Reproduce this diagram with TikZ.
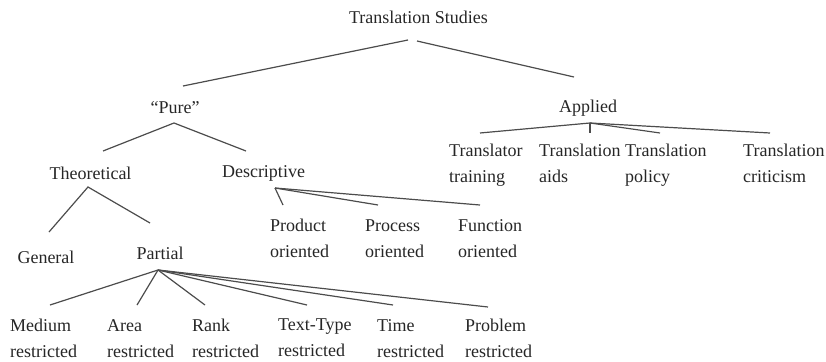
\documentclass[tikz,border=0pt]{standalone}
\usepackage{fontspec}
\setmainfont{Liberation Serif}
\usetikzlibrary{positioning}
\tikzset{
  lbl/.style={inner sep=0pt, text=black!85, font=\fontsize{18}{26}\selectfont},
  leaf/.style={lbl, anchor=west, align=left,
    execute at begin node=\strut, execute at end node=\strut},
  branch/.style={draw=black!70, line width=1.2pt},
}

\begin{document}
\begin{tikzpicture}[x=1pt,y=-1pt]
\useasboundingbox (0,0) rectangle (826,361);
% upper levels
\node[lbl] (ts) at (418.5,17) {Translation Studies};
\node[lbl] (pure) at (175,108) {``Pure''};
\node[lbl] (applied) at (588,108) {Applied};
\node[lbl] (theo) at (90.5,173) {Theoretical};
\node[lbl] (desc) at (263.5,173) {Descriptive};
\node[lbl] (general) at (46,257) {General};
\node[lbl] (partial) at (160,253) {Partial};
% applied branch
\node[leaf] (training) at (449,167.5) {Translator\\training};
\node[leaf] (aids) at (539,167.5) {Translation\\aids};
\node[leaf] (policy) at (625,167.5) {Translation\\policy};
\node[leaf] (criticism) at (743,167.5) {Translation\\criticism};
% descriptive branch
\node[leaf] (product) at (270,242.5) {Product\\oriented};
\node[leaf] (process) at (365,242.5) {Process\\oriented};
\node[leaf] (function) at (458,242.5) {Function\\oriented};
% partial branch
\node[leaf] (medium) at (10,342) {Medium\\restricted};
\node[leaf] (area) at (107,342) {Area\\restricted};
\node[leaf] (rank) at (192,342) {Rank\\restricted};
\node[leaf] (texttype) at (278,342) {Text-Type\\restricted};
\node[leaf] (time) at (377,342) {Time\\restricted};
\node[leaf] (problem) at (465,342) {Problem\\restricted};

\draw[branch] ([shift={(-10.5,23)}]ts.center) -- ([shift={(8,-22)}]pure.center);
\draw[branch] ([shift={(-1.5,24)}]ts.center) -- ([shift={(-14,-31)}]applied.center);

\draw[branch] ([shift={(12.5,-22)}]theo.center) -- ([shift={(-1,15)}]pure.center)
  -- ([shift={(-17.5,-22)}]desc.center);

\foreach \n/\dx in {training/31, aids/51, policy/35, criticism/27}
  \draw[branch] ([shift={(2,15)}]applied.center) -- ([shift={(\dx,-34.5)}]\n.west);

\foreach \n/\dx in {product/13, process/13, function/22}
  \draw[branch] ([shift={(11.5,15)}]desc.center) -- ([shift={(\dx,-37.5)}]\n.west);

\draw[branch] ([shift={(3,-25)}]general.center) -- ([shift={(-2.5,14)}]theo.center)
  -- ([shift={(-10,-30)}]partial.center);

\foreach \n/\dx/\dy in {medium/40/-37, area/30/-37, rank/13/-37, texttype/29/-37, time/16/-37, problem/23/-35}
  \draw[branch] ([shift={(-2,17)}]partial.center) -- ([shift={(\dx,\dy)}]\n.west);
\end{tikzpicture}
\end{document}
